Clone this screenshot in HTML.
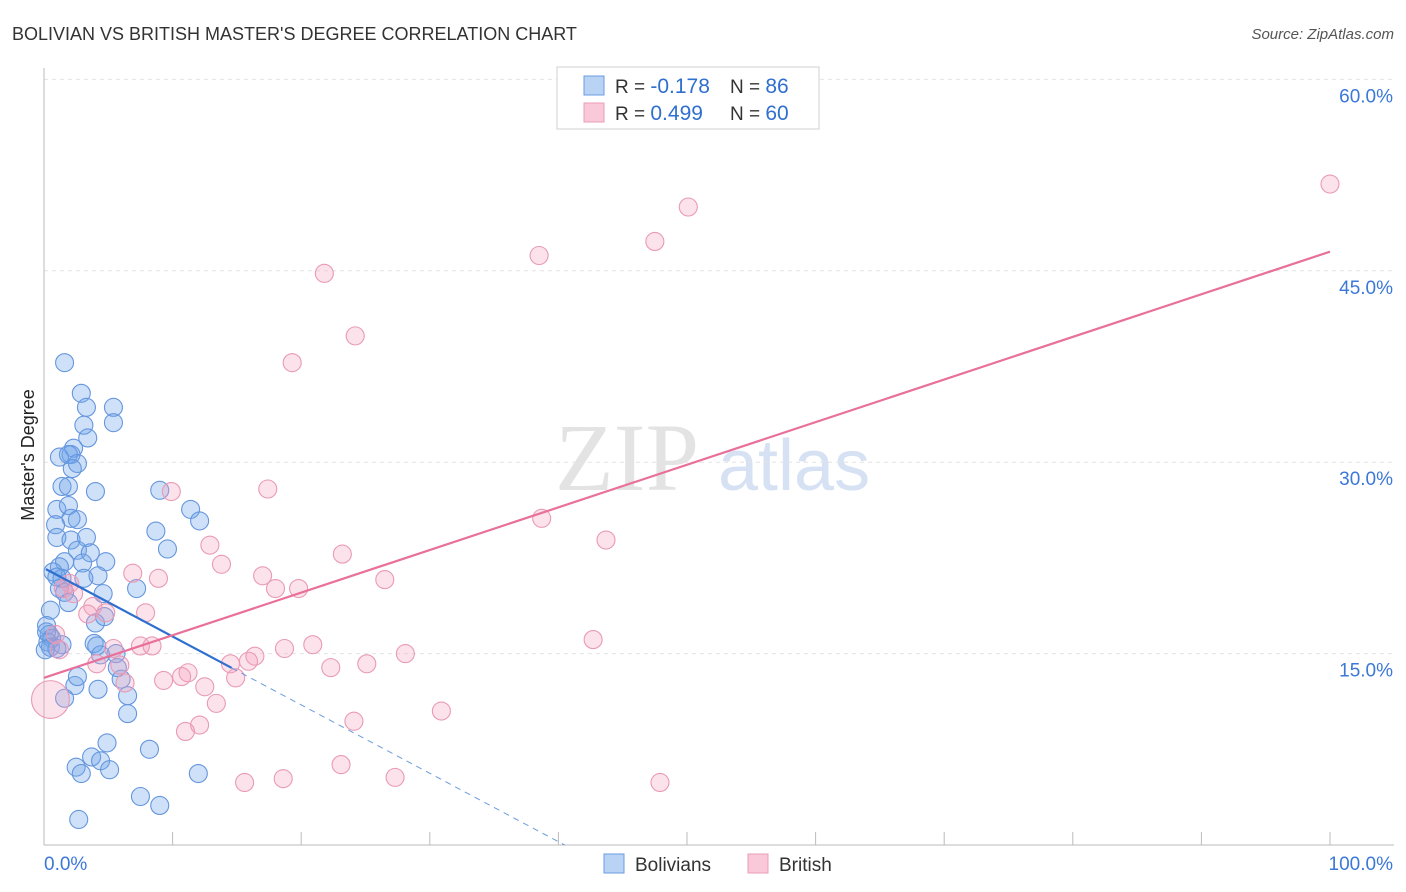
<!DOCTYPE html>
<html><head><meta charset="utf-8"><style>
body{margin:0;background:#fff;font-family:"Liberation Sans",sans-serif;}
#wrap{position:relative;width:1406px;height:892px;overflow:hidden;}
</style></head><body>
<div id="wrap">
<svg id="svg" width="1406" height="892" xmlns="http://www.w3.org/2000/svg">
<text x="12" y="40" font-size="18" fill="#333">BOLIVIAN VS BRITISH MASTER'S DEGREE CORRELATION CHART</text>
<text x="1394" y="39" font-size="15" fill="#555" text-anchor="end" font-style="italic">Source: ZipAtlas.com</text>
<text x="34" y="455" font-size="18" fill="#222" text-anchor="middle" transform="rotate(-90 34 455)">Master's Degree</text>
<text x="555" y="490" font-size="96" fill="#e3e3e3" font-family="Liberation Serif,serif">ZIP</text>
<text x="718" y="490" font-size="72" fill="#d6e2f3">atlas</text>
<g id="grid"></g><g id="pts"></g><g id="lines"></g>
<g>
<rect x="557" y="67" width="262" height="62" fill="#fff" stroke="#d0d0d0"/>
<rect x="584" y="76" width="20" height="19" fill="#b9d3f5" stroke="#6a9be0"/>
<rect x="584" y="103" width="20" height="19" fill="#f9c9d9" stroke="#ea9cb6"/>
<text x="615" y="93" font-size="19" fill="#333">R = <tspan fill="#2f6fd0" font-size="21">-0.178</tspan><tspan x="730">N = </tspan><tspan fill="#2f6fd0" font-size="21">86</tspan></text>
<text x="615" y="120" font-size="19" fill="#333">R = <tspan fill="#2f6fd0" font-size="21"> 0.499</tspan><tspan x="730">N = </tspan><tspan fill="#2f6fd0" font-size="21">60</tspan></text>
</g>
<g>
<rect x="604" y="854" width="20" height="19" fill="#b9d3f5" stroke="#6a9be0"/>
<text x="635" y="871" font-size="19" fill="#333">Bolivians</text>
<rect x="748" y="854" width="20" height="19" fill="#f9c9d9" stroke="#ea9cb6"/>
<text x="779" y="871" font-size="19" fill="#333">British</text>
</g>
</svg>
</div>
<script>
const yTicks=[15,30,45,60];
const yTickLabels=["15.0%","30.0%","45.0%","60.0%"];
const xTickLabels=["0.0%","100.0%"];
const blueX=[1.6,2.9,3.3,5.4,3.1,5.4,3.4,2.3,2.1,1.2,1.9,2.6,2.2,1.4,1.9,4.0,9.0,1.0,1.9,2.6,2.1,11.4,12.1,0.9,1.0,2.1,3.3,8.7,9.6,2.6,3.6,1.6,3.0,4.8,1.2,0.7,1.4,1.0,4.2,3.1,1.2,1.6,4.6,7.2,1.9,4.0,4.7,0.5,0.2,0.4,0.6,0.3,0.5,1.4,1.0,3.9,4.1,5.6,4.4,5.7,6.0,2.4,2.6,4.2,6.5,1.6,6.5,4.9,8.2,3.7,4.4,2.5,2.9,5.1,12.0,7.5,9.0,2.7,0.1,0.2];
const blueY=[37.8,35.4,34.3,34.3,32.9,33.1,31.9,31.1,30.6,30.4,30.6,29.9,29.5,28.1,28.1,27.7,27.8,26.3,26.6,25.5,25.6,26.3,25.4,25.1,24.1,23.9,24.1,24.6,23.2,23.1,22.9,22.2,22.1,22.2,21.8,21.4,20.9,21.0,21.1,20.9,20.1,19.8,19.7,20.1,19.0,17.4,17.9,18.4,17.2,16.5,16.2,15.9,15.5,15.7,15.4,15.8,15.6,15.0,14.9,13.9,13.0,12.5,13.2,12.2,11.7,11.5,10.3,8.0,7.5,6.9,6.6,6.1,5.6,5.9,5.6,3.8,3.1,2.0,15.3,16.7];
const pinkX=[100,50.1,47.5,38.5,21.8,24.2,19.3,9.9,17.4,38.7,43.7,12.9,23.2,13.8,6.9,17.0,8.9,26.5,18.0,19.8,2.0,1.5,2.3,3.8,4.8,3.4,7.9,42.7,7.5,8.4,5.4,20.9,18.7,16.4,28.1,25.1,22.3,15.9,14.5,4.1,5.9,11.2,10.7,9.3,14.9,6.3,12.5,13.4,30.9,24.1,12.1,11.0,23.1,15.6,18.6,27.3,47.9,0.9,1.2,0.5];
const pinkY=[51.8,50.0,47.3,46.2,44.8,39.9,37.8,27.7,27.9,25.6,23.9,23.5,22.8,22.0,21.3,21.1,20.9,20.8,20.1,20.1,20.5,20.1,19.7,18.7,18.2,18.1,18.2,16.1,15.6,15.6,15.4,15.7,15.4,14.8,15.0,14.2,13.9,14.4,14.2,14.2,14.1,13.5,13.2,12.9,13.1,12.7,12.4,11.1,10.5,9.7,9.4,8.9,6.3,4.9,5.2,5.3,4.9,16.5,15.3,11.4];
const pinkSize=pinkX.map((v,i)=>i===pinkX.length-1?3:1);
const blueTrend=[21.7,-0.536];
const pinkTrend=[13.1,0.334];
const NS="http://www.w3.org/2000/svg";
const X=v=>44+v*12.86, Y=v=>845-v*12.76;
function mk(tag,a,p){const e=document.createElementNS(NS,tag);for(const k in a)e.setAttribute(k,a[k]);p.appendChild(e);return e;}
const g=document.getElementById('grid'),svg=document.getElementById('svg');
yTicks.forEach((t,i)=>{
 const l=mk('line',{x1:44,x2:1394,y1:Y(t),y2:Y(t),stroke:'#e4e4e4','stroke-dasharray':'4 4'},g);
 
 
 const tx=mk('text',{x:1393,y:Y(t)+23,'font-size':19,fill:'#3b78d8','text-anchor':'end'},g);
 tx.textContent=yTickLabels[i];
 
 
});
const ax=mk('line',{x1:44,x2:44,y1:68,y2:845,stroke:'#bbb'},g);


const bx=mk('line',{x1:44,x2:1394,y1:845,y2:845,stroke:'#bbb'},g);


for(let i=0;i<=10;i++){const t=mk('line',{x1:X(i*10),x2:X(i*10),y1:832,y2:845,stroke:'#bbb'},g);
 
 }
[[0,'start',44],[100,'end',1393]].forEach((d,i)=>{const t=mk('text',{x:d[2],y:870,'font-size':19,fill:'#3b78d8','text-anchor':d[1]},g);t.textContent=xTickLabels[i];
 
 });
const pg=document.getElementById('pts');
blueX.forEach((v,i)=>{const c=mk('circle',{cx:X(v),cy:Y(blueY[i]),r:9,fill:'rgba(110,165,235,0.33)',stroke:'#6596de','stroke-width':1.1},pg);
 
 });
pinkX.forEach((v,i)=>{const c=mk('circle',{cx:X(v),cy:Y(pinkY[i]),r:9*(pinkSize[i]>1?2.1:1),fill:'rgba(245,160,190,0.3)',stroke:'#e99ab5','stroke-width':1.1},pg);
 
 });
const lg=document.getElementById('lines');
const bl=mk('line',{x1:X(0.15),y1:Y(blueTrend[0]+blueTrend[1]*0.15),x2:X(14.6),y2:Y(blueTrend[0]+blueTrend[1]*14.6),stroke:'#2f6fd0','stroke-width':2.2},lg);


const bd=mk('line',{x1:X(14.6),y1:Y(blueTrend[0]+blueTrend[1]*14.6),x2:X(40.5),y2:Y(blueTrend[0]+blueTrend[1]*40.5),stroke:'#6a9be0','stroke-width':1,'stroke-dasharray':'6 5'},lg);


const pl=mk('line',{x1:X(0),y1:Y(pinkTrend[0]),x2:X(100),y2:Y(pinkTrend[0]+pinkTrend[1]*100),stroke:'#e8709a','stroke-width':2.2},lg);


</script>
</body></html>
